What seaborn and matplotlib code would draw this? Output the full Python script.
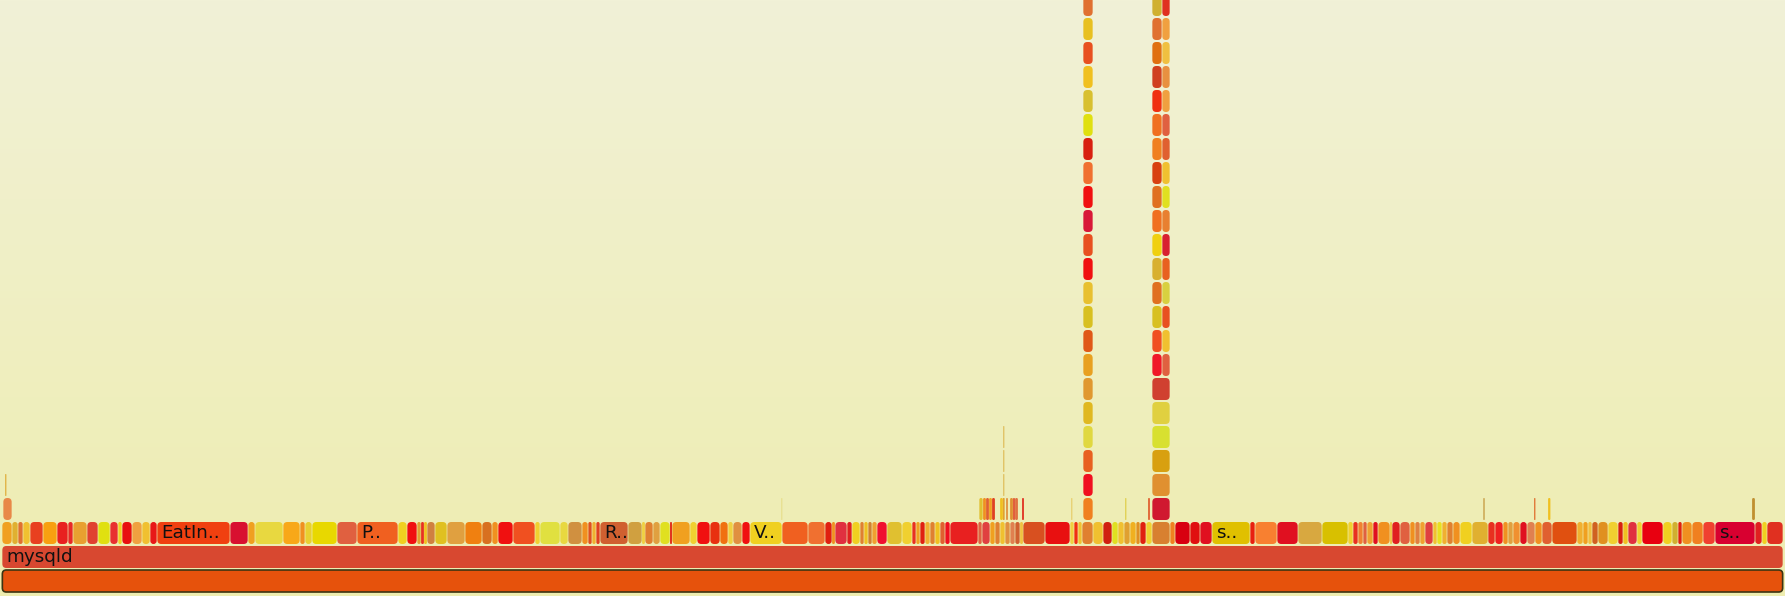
import numpy as np
import pandas as pd
import matplotlib
matplotlib.use("Agg")
import matplotlib.pyplot as plt
from matplotlib.patches import FancyBboxPatch, Rectangle
import seaborn as sns

# ---- data: flame graph frames, widths in samples ----
total_samples = 1781
root_color = "#e6520c"
mysqld_color = "#d84830"
mysqld_label = "mysqld"

# children of mysqld (level 2), laid out left to right
level2_widths = [
    10, 6, 5, 7, 13, 14, 11, 5, 14, 11, 12, 8, 4, 10, 10, 8, 7, 73, 18, 7,
    28, 17, 5, 7, 25, 20, 41, 9, 10, 4, 3, 3, 8, 12, 18, 17, 10, 6, 15, 22,
    5, 20, 8, 14, 6, 4, 4, 4, 28, 14, 3, 8, 7, 10, 2, 18, 7, 13, 10, 8,
    5, 9, 8, 32, 26, 17, 7, 3, 12, 5, 8, 4, 4, 4, 5, 10, 15, 10, 4, 4,
    5, 5, 5, 5, 5, 5, 28, 4, 8, 5, 5, 5, 5, 5, 5, 3, 22, 25, 4, 4,
    4, 11, 10, 9, 6, 6, 6, 6, 4, 6, 6, 18, 5, 15, 10, 12, 38, 5, 22, 21,
    24, 26, 5, 5, 5, 4, 6, 5, 12, 2, 8, 10, 5, 5, 5, 8, 4, 5, 5, 6,
    7, 12, 16, 7, 8, 5, 5, 7, 7, 8, 7, 10, 25, 6, 5, 4, 6, 10, 10, 5,
    5, 9, 5, 21, 9, 6, 4, 10, 11, 12, 40, 7, 5, 16,
]
level2_colors = [
    "#f0a020", "#e0b030", "#e07030", "#f0c030", "#e84020", "#f8a010", "#e82020", "#e82828", "#e8a030", "#e04030",
    "#e0e010", "#e83030", "#f0d020", "#e81010", "#f0a040", "#f0c030", "#e81818", "#f04010", "#d81030", "#f0a020",
    "#e8d840", "#f8a818", "#f09020", "#e8d030", "#e8d800", "#e06040", "#f06020", "#f0d020", "#f01010", "#e0a030",
    "#e83020", "#f0c020", "#d08040", "#e0c020", "#e0a040", "#f08010", "#d87020", "#f09020", "#f01010", "#f05020",
    "#f0d030", "#e0e040", "#e8d840", "#d09040", "#f09020", "#e05020", "#f0b030", "#e04020", "#d06030", "#d0a040",
    "#f0d040", "#e08030", "#e0a040", "#e0e020", "#e02010", "#f0a020", "#f0d030", "#f01010", "#e83010", "#f07010",
    "#f0d040", "#e09040", "#f01010", "#f0d020", "#f06020", "#f07030", "#e02010", "#f09020", "#e03040", "#e02020",
    "#f0d020", "#e08030", "#f0c020", "#d08030", "#f0a030", "#f01030", "#e0c030", "#f0d030", "#e83020", "#f0a020",
    "#e02010", "#f0b030", "#e08030", "#f0c020", "#e06030", "#f01020", "#e82020", "#e06040", "#e04040", "#f0a020",
    "#e08030", "#f0c030", "#e09040", "#e08050", "#d06030", "#f0c040", "#d85020", "#e81010", "#f0d040", "#f03010",
    "#f0c030", "#e08030", "#f0c030", "#d02010", "#e0e020", "#f0c030", "#e0a030", "#f0b020", "#e09020", "#e02010",
    "#f0d030", "#d88030", "#f08020", "#d80010", "#e01010", "#e01020", "#e0c000", "#e82010", "#f88030", "#e01020",
    "#d8a840", "#d8c000", "#f0d030", "#e83020", "#f08030", "#e06040", "#f0a030", "#e01020", "#f09020", "#f0c040",
    "#e02020", "#e06040", "#f09020", "#e08040", "#f0a030", "#e04040", "#f0c030", "#e8e020", "#f0b030", "#e08030",
    "#f09020", "#f0d020", "#e0b030", "#e83020", "#f02020", "#f09020", "#e0a040", "#f09030", "#e01020", "#e08050",
    "#f09020", "#e06030", "#e05010", "#f0b030", "#f0a020", "#f0c040", "#d06020", "#e09020", "#f0d030", "#d82010",
    "#f0c020", "#e03040", "#f0d030", "#e80010", "#f0d020", "#d0b030", "#e02010", "#f09020", "#f08020", "#f04030",
    "#d80030", "#e02020", "#f0d020", "#e03020",
]
level2_labels = {17: "EatIn..", 26: "P..", 48: "R..", 63: "V..", 116: "s..", 170: "s.."}

# small frames above level 2
small_levels = [3, 4, 3, 3, 3, 3, 3, 3, 3, 3, 3, 3, 3, 3, 4, 5, 6, 3, 3, 3, 3, 3, 3, 3, 3, 3]
small_starts = [1, 3, 977, 981, 984, 987, 990, 998, 1001, 1001, 1008, 1011, 1013, 1020, 1001, 1001, 1001,
                779, 1069, 1123, 1146, 1481, 1532, 1546, 1750, 1004]
small_widths = [9, 1.5, 4, 3, 3, 3, 3, 3, 1.5, 1.5, 3, 2, 3, 2, 1.5, 1.5, 1.5,
                1.5, 1.5, 1.5, 2, 2, 1.5, 2.5, 3, 2]
small_colors = ["#e88848", "#e0b040", "#e0c030", "#f09020", "#e06030", "#f0a020", "#e04020", "#f0c020",
                "#e0a030", "#e0a030", "#e09030", "#e05030", "#e07040", "#e03020", "#e0c060", "#e0c060",
                "#e0c060", "#e8e090", "#e8d070", "#e0d050", "#e06030", "#d0b060", "#e07030", "#f0c020",
                "#c09030", "#e09040"]

# two deep stacks (levels 3 .. 24)
tower1_start, tower1_width = 1081, 10
tower1_colors = [
    "#f08020", "#f01020", "#e86020", "#e0d840", "#e0b820", "#e09830", "#e8a020", "#e05818",
    "#d8c020", "#e8c030", "#f01010", "#e85020", "#d81838", "#f01010", "#f07030", "#d82010",
    "#e0e010", "#d8c030", "#f0c020", "#e85020", "#e8c020", "#e07030",
]
tower2_start = 1150
tower2_widths = [10, 8]
tower2_full_colors = ["#d01830", "#e09030", "#d8a010", "#d8e030", "#e0d040", "#d04030"]  # levels 3..8
tower2_left_colors = [
    "#f01828", "#f05020", "#d8c020", "#e07020", "#d8b030", "#f0d010", "#f07020", "#e07020",
    "#d84010", "#f08020", "#f07020", "#f03010", "#d04020", "#e07010", "#e07030", "#d0b030",
]  # levels 9..24
tower2_right_colors = [
    "#e06040", "#f0c030", "#e85020", "#d8d040", "#e86020", "#d82030", "#e88030", "#e0e020",
    "#f0c030", "#e06030", "#e06040", "#f0a040", "#e89040", "#f0c040", "#f0a040", "#e03020",
]

# ---- assemble frames table ----
rows = [dict(level=0, start=0, width=total_samples, color=root_color, label=""),
        dict(level=1, start=0, width=total_samples, color=mysqld_color, label=mysqld_label)]
offsets = np.concatenate([[0], np.cumsum(level2_widths)[:-1]])
for i, (s, w, c) in enumerate(zip(offsets, level2_widths, level2_colors)):
    rows.append(dict(level=2, start=s, width=w, color=c, label=level2_labels.get(i, "")))
for lv, s, w, c in zip(small_levels, small_starts, small_widths, small_colors):
    rows.append(dict(level=lv, start=s, width=w, color=c, label=""))
for k, c in enumerate(tower1_colors):
    rows.append(dict(level=3 + k, start=tower1_start, width=tower1_width, color=c, label=""))
for k, c in enumerate(tower2_full_colors):
    rows.append(dict(level=3 + k, start=tower2_start, width=sum(tower2_widths), color=c, label=""))
for k, (cl, cr) in enumerate(zip(tower2_left_colors, tower2_right_colors)):
    rows.append(dict(level=9 + k, start=tower2_start, width=tower2_widths[0], color=cl, label=""))
    rows.append(dict(level=9 + k, start=tower2_start + tower2_widths[0], width=tower2_widths[1], color=cr, label=""))
frames = pd.DataFrame(rows)

# ---- plot ----
sns.set_theme(style="white")
plt.rcParams["font.family"] = ["DejaVu Sans"]

fig = plt.figure(figsize=(17.85, 5.96), dpi=100)
ax = fig.add_axes([0, 0, 1, 1])
x_lo, x_hi = -2, total_samples + 2
y_lo, y_hi = -4 / 24, 592 / 24
ax.set_xlim(x_lo, x_hi)
ax.set_ylim(y_lo, y_hi)
ax.axis("off")

top = np.array([241, 241, 215]) / 255
bottom = np.array([238, 237, 176]) / 255
t = np.linspace(0, 1, 256)[:, None]
grad = (top * (1 - t) + bottom * t)[:, None, :]
ax.imshow(grad, extent=(x_lo, x_hi, y_lo, y_hi), aspect="auto", zorder=0, origin="upper")

bar_h = 22 / 24
for f in frames.itertuples():
    gap = 0.7 if f.width > 3 else 0.2
    w = max(f.width - gap, 1.0)
    x = f.start + gap / 2
    r = min(4.0, w / 2 - 0.05)
    edge = "#3c3412" if f.level == 0 else "none"
    lw = 1.2 if f.level == 0 else 0
    if r > 0.4:
        p = FancyBboxPatch((x, f.level), w, bar_h,
                           boxstyle=f"round,pad=0,rounding_size={r}",
                           mutation_aspect=1 / 24, facecolor=f.color,
                           edgecolor=edge, linewidth=lw, zorder=2)
    else:
        p = Rectangle((x, f.level), w, bar_h, facecolor=f.color, linewidth=0, zorder=2)
    ax.add_patch(p)
    if f.label:
        ax.text(f.start + 4, f.level + 6.5 / 24, f.label, fontsize=13.2,
                va="baseline", ha="left", color="#111111", zorder=3)

fig.savefig("out.png", dpi=100)
